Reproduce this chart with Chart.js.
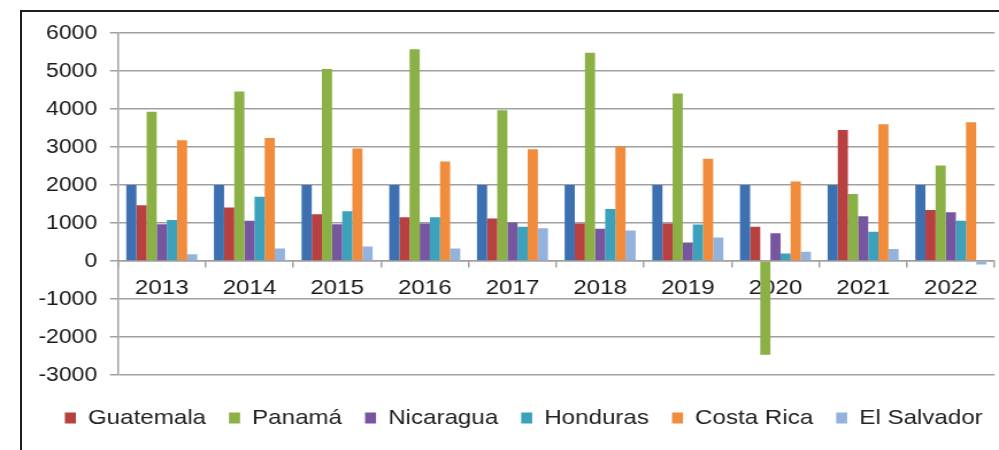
<!DOCTYPE html>
<html><head><meta charset="utf-8">
<script src="https://cdn.jsdelivr.net/npm/chart.js@4.4.0/dist/chart.umd.min.js"></script>
<style>
html,body{margin:0;padding:0;background:#fff;overflow:hidden;width:999px;height:450px;}
#frame{position:absolute;left:20px;top:10px;width:1100px;height:500px;border-left:2px solid #1e1e1e;border-top:2px solid #1e1e1e;box-sizing:border-box;}
#wrap{position:absolute;left:0;top:0;width:869px;height:450px;transform:scaleX(1.1496);transform-origin:0 0;}
</style></head><body>
<div id="frame"></div>
<div id="wrap"><canvas id="c"></canvas></div>
<script>
const categories = ['2013','2014','2015','2016','2017','2018','2019','2020','2021','2022'];
const baseline   = [2000,2000,2000,2000,2000,2000,2000,2000,2000,2000];
const guatemala  = [1470,1410,1230,1150,1120,990,990,900,3450,1340];
const panama     = [3930,4460,5050,5570,3970,5480,4410,-2470,1760,2510];
const nicaragua  = [970,1060,970,990,1010,850,490,730,1180,1280];
const honduras   = [1080,1690,1310,1150,900,1370,960,200,770,1060];
const costaRica  = [3180,3240,2960,2620,2940,3010,2690,2090,3600,3650];
const elSalvador = [175,330,380,330,860,800,620,245,315,-90];
const yTicks = [-3000,-2000,-1000,0,1000,2000,3000,4000,5000,6000];

const FONT = "'Liberation Sans', Arial, sans-serif";
const GRID = '#a0a0a0';
const LEGEND_SHIFT = 23;
const series = [
  {label:'', data: baseline, backgroundColor:'#3c70b1'},
  {label:'Guatemala', data: guatemala, backgroundColor:'#b8413f'},
  {label:'Panamá', data: panama, backgroundColor:'#8bb046'},
  {label:'Nicaragua', data: nicaragua, backgroundColor:'#7756a0'},
  {label:'Honduras', data: honduras, backgroundColor:'#3ca2bb'},
  {label:'Costa Rica', data: costaRica, backgroundColor:'#f08c3c'},
  {label:'El Salvador', data: elSalvador, backgroundColor:'#93b3de'}
];

const legendShift = {
  id: 'legendShift',
  afterLayout(chart) {
    if (chart.legend) { chart.legend.left += LEGEND_SHIFT; chart.legend.right += LEGEND_SHIFT; }
  }
};

new Chart(document.getElementById('c'), {
  type: 'bar',
  data: {
    labels: categories,
    datasets: series.map(s => ({...s, borderWidth:0, categoryPercentage:0.81, barPercentage:1}))
  },
  plugins: [legendShift],
  options: {
    responsive: true,
    maintainAspectRatio: false,
    animation: false,
    layout: {padding: {top: 33, right: 3.8, bottom: 11.5, left: 0}},
    plugins: {
      legend: {
        position: 'bottom',
        title: {display: true, text: '', font: {size: 1}, padding: {top: 0, bottom: 11.3}},
        labels: {
          filter: item => item.datasetIndex > 0,
          boxWidth: 9.6, boxHeight: 11, padding: 20,
          color: '#222', font: {family: FONT, size: 21}
        }
      },
      tooltip: {enabled:false}
    },
    scales: {
      x: {
        position: {y: 0},
        grid: {drawOnChartArea:false, drawTicks:true, tickLength:6, color:GRID, lineWidth:1.5, offset:true},
        border: {display:true, color:GRID, width:1.5},
        ticks: {color:'#1a1a1a', font:{family:FONT, size:21}, padding:9, maxRotation:0, autoSkip:false}
      },
      y: {
        min: -3000, max: 6000,
        afterBuildTicks: s => { s.ticks = yTicks.map(v => ({value:v})); },
        afterFit: s => { s.width = 102.6; },
        grid: {color:GRID, lineWidth:1.5, tickLength:7, drawTicks:true},
        border: {display:true, color:GRID, width:1.5},
        ticks: {color:'#1a1a1a', font:{family:FONT, size:20}, padding:11, callback: v => String(v)}
      }
    }
  }
});
</script>
</body></html>
